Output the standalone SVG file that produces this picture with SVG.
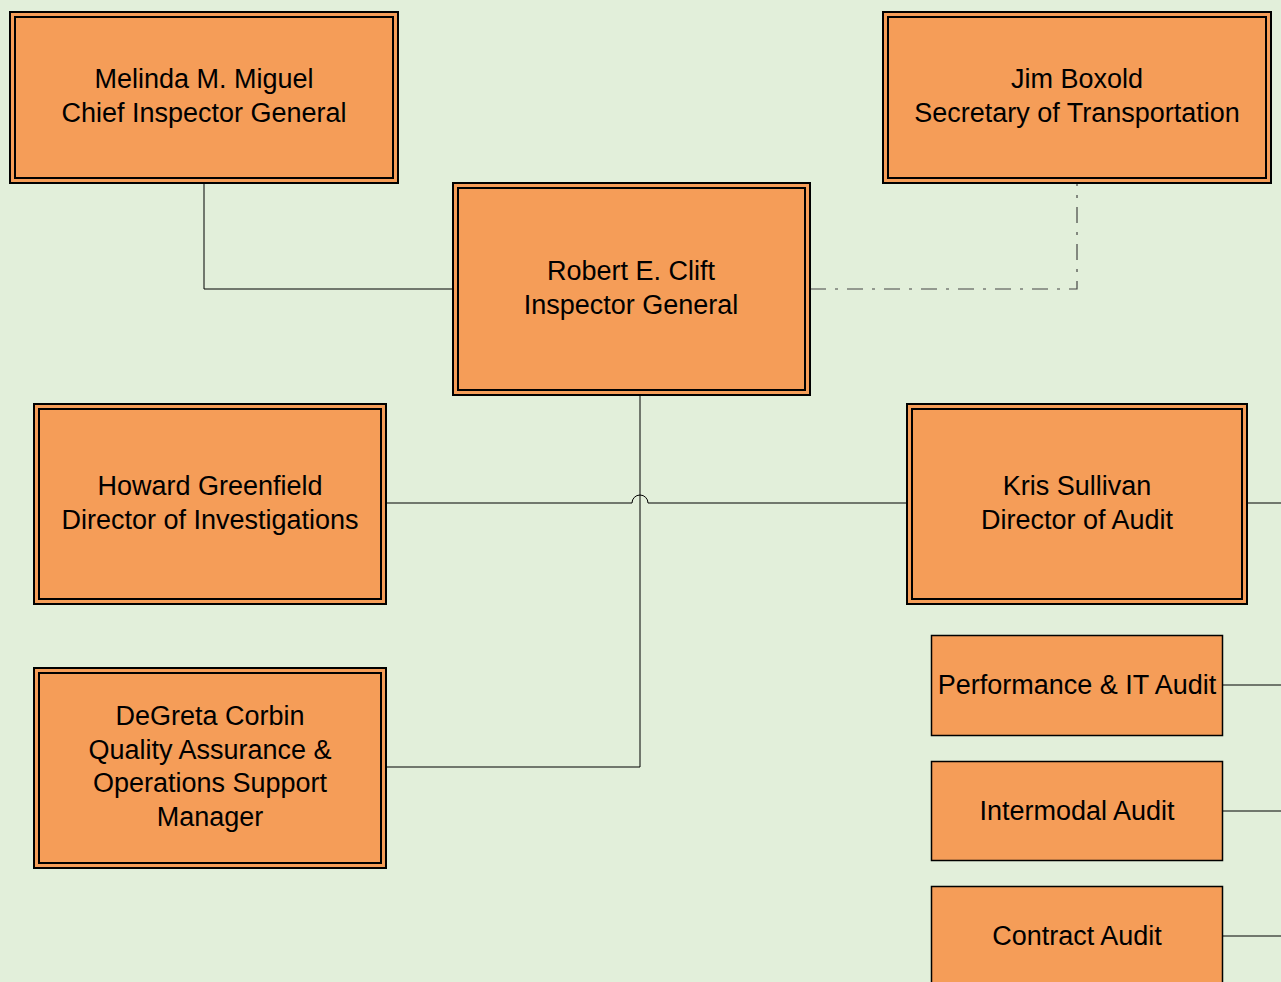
<svg xmlns="http://www.w3.org/2000/svg" width="1281" height="982" viewBox="0 0 1281 982">
<style>
.o{fill:#f59d58;stroke:#000;stroke-width:2}
.i{fill:none;stroke:#000;stroke-width:2}
.s{fill:#f59d58;stroke:#000;stroke-width:1.5}
.t{font-family:"Liberation Sans",Arial,sans-serif;font-size:27px;fill:#000;text-anchor:middle}
.c{fill:none;stroke:#000;stroke-width:1}
.d{fill:none;stroke:#444;stroke-width:1.2;stroke-dasharray:16,9,3,9}
</style>
<rect width="1281" height="982" fill="#e2efda"/>
<g id="connectors">
<path class="c" d="M204,183 V289 H452"/>
<path class="d" d="M810,289 H1077 V183"/>
<path class="c" d="M640,395 V767 H386"/>
<path class="c" d="M386,503 H632 A8,8 0 0 1 648,503 H907"/>
<path class="c" d="M1247,503 H1281"/>
<path class="c" d="M1223,685 H1281"/>
<path class="c" d="M1223,811 H1281"/>
<path class="c" d="M1223,936 H1281"/>
</g>
<g id="melinda">
<rect class="o" x="10" y="12" width="388" height="171"/>
<rect class="i" x="15" y="17" width="378" height="161"/>
<text class="t" x="204" y="88">Melinda M. Miguel</text>
<text class="t" x="204" y="122">Chief Inspector General</text>
</g>
<g id="jim">
<rect class="o" x="883" y="12" width="388" height="171"/>
<rect class="i" x="888" y="17" width="378" height="161"/>
<text class="t" x="1077" y="88">Jim Boxold</text>
<text class="t" x="1077" y="122">Secretary of Transportation</text>
</g>
<g id="robert">
<rect class="o" x="453" y="183" width="357" height="212"/>
<rect class="i" x="458" y="188" width="347" height="202"/>
<text class="t" x="631" y="280">Robert E. Clift</text>
<text class="t" x="631" y="314">Inspector General</text>
</g>
<g id="howard">
<rect class="o" x="34" y="404" width="352" height="200"/>
<rect class="i" x="39" y="409" width="342" height="190"/>
<text class="t" x="210" y="495">Howard Greenfield</text>
<text class="t" x="210" y="529">Director of Investigations</text>
</g>
<g id="kris">
<rect class="o" x="907" y="404" width="340" height="200"/>
<rect class="i" x="912" y="409" width="330" height="190"/>
<text class="t" x="1077" y="495">Kris Sullivan</text>
<text class="t" x="1077" y="529">Director of Audit</text>
</g>
<g id="degreta">
<rect class="o" x="34" y="668" width="352" height="200"/>
<rect class="i" x="39" y="673" width="342" height="190"/>
<text class="t" x="210" y="725">DeGreta Corbin</text>
<text class="t" x="210" y="759">Quality Assurance &amp;</text>
<text class="t" x="210" y="792">Operations Support</text>
<text class="t" x="210" y="826">Manager</text>
</g>
<g id="performance">
<rect class="s" x="931.5" y="635.5" width="291" height="100"/>
<text class="t" x="1077" y="694">Performance &amp; IT Audit</text>
</g>
<g id="intermodal">
<rect class="s" x="931.5" y="761.5" width="291" height="99"/>
<text class="t" x="1077" y="820">Intermodal Audit</text>
</g>
<g id="contract">
<rect class="s" x="931.5" y="886.5" width="291" height="110"/>
<text class="t" x="1077" y="945">Contract Audit</text>
</g>
</svg>
